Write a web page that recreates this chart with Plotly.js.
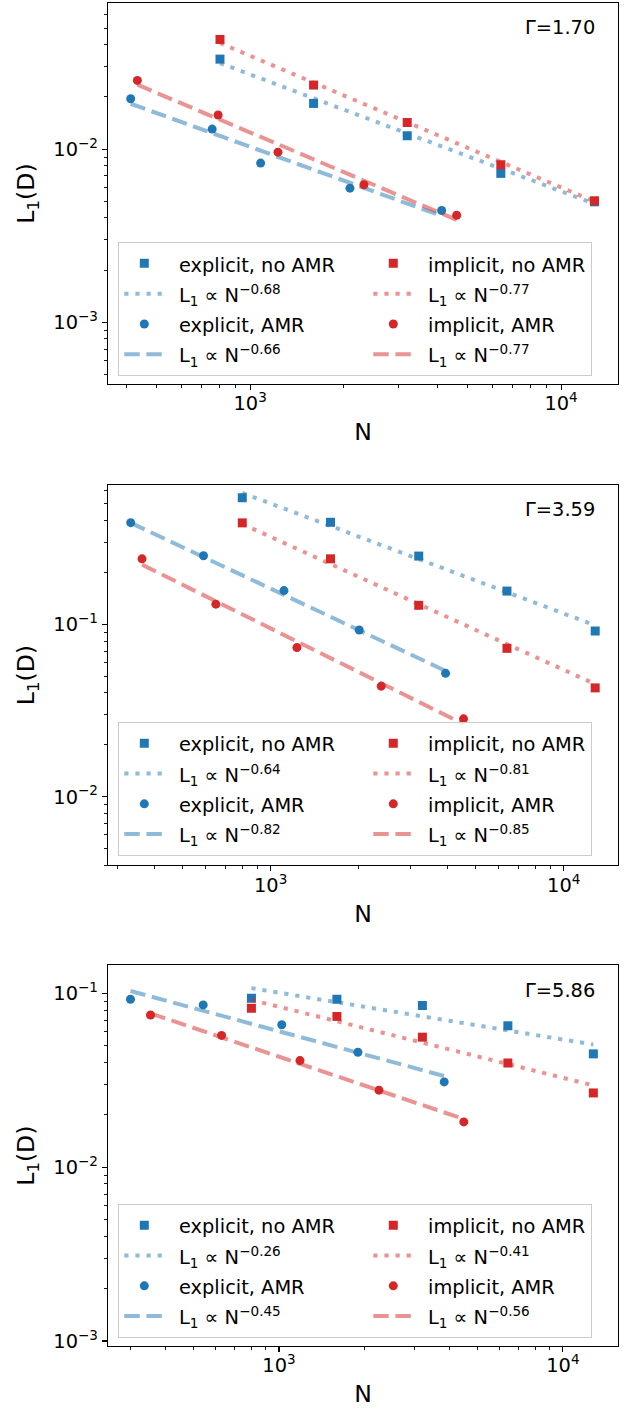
<!DOCTYPE html>
<html>
<head>
<meta charset="utf-8">
<script src="https://cdn.plot.ly/plotly-3.0.1.min.js"></script>
<style>
html, body { margin: 0; padding: 0; background: #ffffff; }
#chart { width: 633px; height: 1409px; }
</style>
</head>
<body>
<div id="chart"></div>
<script>
// ---------------- data ----------------
const gammaLabels = ['Γ=1.70', 'Γ=3.59', 'Γ=5.86'];
const seriesNames = ['explicit, no AMR', 'implicit, no AMR', 'explicit, AMR', 'implicit, AMR'];

// N for the runs without AMR (same in every panel)
const nNoAMR = [800, 1600, 3200, 6400, 12800];

// Panel 1 : Γ = 1.70
const p1ExpNoAMR = [0.0331, 0.01836, 0.01194, 0.00724, 0.00496];
const p1ImpNoAMR = [0.0430, 0.02344, 0.01425, 0.00812, 0.00503];
const p1ExpAMR_N = [413, 755, 1081, 2094, 4130];
const p1ExpAMR   = [0.01954, 0.01305, 0.0083, 0.00595, 0.00442];
const p1ImpAMR_N = [434, 789, 1229, 2323, 4615];
const p1ImpAMR   = [0.02494, 0.01574, 0.0096, 0.00622, 0.00415];
const p1FitExpNoAMR_N = [800, 12800];  const p1FitExpNoAMR = [0.0314, 0.00483];
const p1FitImpNoAMR_N = [800, 12800];  const p1FitImpNoAMR = [0.0410, 0.00498];
const p1FitExpAMR_N   = [413, 4130];   const p1FitExpAMR   = [0.01828, 0.00411];
const p1FitImpAMR_N   = [434, 4615];   const p1FitImpAMR   = [0.02355, 0.0039];
const p1Exponents = ['0.68', '0.77', '0.66', '0.77'];

// Panel 2 : Γ = 3.59
const p2ExpNoAMR = [0.542, 0.391, 0.249, 0.156, 0.0915];
const p2ImpNoAMR = [0.388, 0.240, 0.129, 0.0726, 0.0428];
const p2ExpAMR_N = [333, 590, 1110, 2005, 3951];
const p2ExpAMR   = [0.389, 0.250, 0.157, 0.0927, 0.052];
const p2ImpAMR_N = [364, 650, 1229, 2383, 4550];
const p2ImpAMR   = [0.240, 0.131, 0.0733, 0.0438, 0.0283];
const p2FitExpNoAMR_N = [800, 12800];  const p2FitExpNoAMR = [0.579, 0.0987];
const p2FitImpNoAMR_N = [800, 12800];  const p2FitImpNoAMR = [0.382, 0.0450];
const p2FitExpAMR_N   = [333, 3951];   const p2FitExpAMR   = [0.388, 0.0537];
const p2FitImpAMR_N   = [364, 4550];   const p2FitImpAMR   = [0.222, 0.0264];
const p2Exponents = ['0.64', '0.81', '0.82', '0.85'];

// Panel 3 : Γ = 5.86
const p3ExpNoAMR = [0.0935, 0.0923, 0.0849, 0.0650, 0.0448];
const p3ImpNoAMR = [0.0819, 0.0736, 0.0559, 0.0397, 0.0267];
const p3ExpAMR_N = [300, 541, 1023, 1897, 3819];
const p3ExpAMR   = [0.0923, 0.0857, 0.0659, 0.0458, 0.0309];
const p3ImpAMR_N = [353, 628, 1186, 2249, 4477];
const p3ImpAMR   = [0.0750, 0.0572, 0.0410, 0.0277, 0.0182];
const p3FitExpNoAMR_N = [800, 12800];  const p3FitExpNoAMR = [0.107, 0.0507];
const p3FitImpNoAMR_N = [800, 12800];  const p3FitImpNoAMR = [0.0916, 0.0295];
const p3FitExpAMR_N   = [300, 3819];   const p3FitExpAMR   = [0.103, 0.0334];
const p3FitImpAMR_N   = [353, 4477];   const p3FitImpAMR   = [0.0766, 0.0189];
const p3Exponents = ['0.26', '0.41', '0.45', '0.56'];

// axis tick labels
const xTickVals = [1e3, 1e4];
const xTickText = ['10<sup>3</sup>', '10<sup>4</sup>'];
const yTickVals = [1e-3, 1e-2, 1e-1];
const yTickText = ['10<sup>−3</sup>', '10<sup>−2</sup>', '10<sup>−1</sup>'];

// ---------------- styling ----------------
const FONT = 'DejaVu Sans';
const BLUE = '#1f77b4', RED = '#d62728';
const BLUE_FIT = 'rgba(31,119,180,0.5)', RED_FIT = 'rgba(214,39,40,0.5)';
const DOTTED = '4.2px,6.9px', DASHED = '15.4px,6.7px';
const TXT = s => '<span style="font-size:19.4px">\u2002' + s + '</span>';
const FITTXT = e => TXT('L<sub>1</sub> ∝ N<sup>−' + e + '</sup>');

const panels = [
  {exp: p1ExpNoAMR, imp: p1ImpNoAMR, eaN: p1ExpAMR_N, ea: p1ExpAMR, iaN: p1ImpAMR_N, ia: p1ImpAMR,
   f: [[p1FitExpNoAMR_N, p1FitExpNoAMR], [p1FitImpNoAMR_N, p1FitImpNoAMR], [p1FitExpAMR_N, p1FitExpAMR], [p1FitImpAMR_N, p1FitImpAMR]],
   ex: p1Exponents, xr: [2.543, 4.183], yr: [-3.357, -1.156], dom: [0.7163, 1.0], leg: 0.7720},
  {exp: p2ExpNoAMR, imp: p2ImpNoAMR, eaN: p2ExpAMR_N, ea: p2ExpAMR, iaN: p2ImpAMR_N, ia: p2ImpAMR,
   f: [[p2FitExpNoAMR_N, p2FitExpNoAMR], [p2FitImpNoAMR_N, p2FitImpNoAMR], [p2FitExpAMR_N, p2FitExpAMR], [p2FitImpAMR_N, p2FitImpAMR]],
   ex: p2Exponents, xr: [2.445, 4.185], yr: [-2.398, -0.190], dom: [0.3579, 0.6413], leg: 0.4147},
  {exp: p3ExpNoAMR, imp: p3ImpNoAMR, eaN: p3ExpAMR_N, ea: p3ExpAMR, iaN: p3ImpAMR_N, ia: p3ImpAMR,
   f: [[p3FitExpNoAMR_N, p3FitExpNoAMR], [p3FitImpNoAMR_N, p3FitImpNoAMR], [p3FitExpAMR_N, p3FitExpAMR], [p3FitImpAMR_N, p3FitImpAMR]],
   ex: p3Exponents, xr: [2.398, 4.194], yr: [-3.029, -0.839], dom: [0.0, 0.2835], leg: 0.0558}
];

function minorVals(lo, hi) {
  const v = [];
  for (let d = lo; d <= hi; d++) for (let k = 2; k <= 9; k++) v.push(k * Math.pow(10, d));
  return v;
}

const traces = [];
const layout = {
  width: 633, height: 1409,
  margin: {l: 108, r: 15, t: 3, b: 63, pad: 0},
  paper_bgcolor: '#ffffff', plot_bgcolor: '#ffffff',
  font: {family: FONT, size: 19.4, color: '#000000'},
  showlegend: true,
  annotations: []
};

panels.forEach((p, i) => {
  const s = i === 0 ? '' : String(i + 1);
  const xa = 'x' + s, ya = 'y' + s, lg = 'legend' + s;
  const common = {xaxis: xa, yaxis: ya, legend: lg, hoverinfo: 'skip'};
  const mk = (x, y, name, col, sym, rank, w) => Object.assign({
    type: 'scatter', mode: 'markers', x: x, y: y, name: TXT(name),
    marker: {color: col, symbol: sym, size: 9, line: {width: 0}}, legendrank: rank
  }, w ? {legendwidth: w} : {}, common);
  const ln = (xy, ex, col, dash, rank, w) => Object.assign({
    type: 'scatter', mode: 'lines', x: xy[0], y: xy[1], name: FITTXT(ex),
    line: {color: col, width: 4, dash: dash}, legendrank: rank
  }, w ? {legendwidth: w} : {}, common);

  // drawing order as in the original figure
  traces.push(mk(nNoAMR, p.exp, seriesNames[0], BLUE, 'square', 1));
  traces.push(ln(p.f[0], p.ex[0], BLUE_FIT, DOTTED, 3));
  traces.push(mk(p.eaN, p.ea, seriesNames[2], BLUE, 'circle', 5));
  traces.push(ln(p.f[2], p.ex[2], BLUE_FIT, DASHED, 7));
  traces.push(mk(nNoAMR, p.imp, seriesNames[1], RED, 'square', 2, 168));
  traces.push(ln(p.f[1], p.ex[1], RED_FIT, DOTTED, 4, 168));
  traces.push(mk(p.iaN, p.ia, seriesNames[3], RED, 'circle', 6, 168));
  traces.push(ln(p.f[3], p.ex[3], RED_FIT, DASHED, 8, 168));

  const axCommon = {
    type: 'log', showgrid: false, zeroline: false,
    showline: true, linecolor: '#000000', linewidth: 1.1, mirror: true,
    ticks: 'outside', ticklen: 5, tickwidth: 1.1, tickcolor: '#000000',
    tickfont: {family: FONT, size: 19.4, color: '#000000'},
    tickmode: 'array'
  };
  layout['xaxis' + s] = Object.assign({}, axCommon, {
    anchor: ya, domain: [0, 1], range: p.xr,
    tickvals: xTickVals, ticktext: xTickText, ticklabelstandoff: -3,
    minor: {tickmode: 'array', tickvals: minorVals(2, 4), ticks: 'outside', ticklen: 3, tickwidth: 0.9, tickcolor: '#000000', showgrid: false},
    title: {text: 'N', font: {family: FONT, size: 23.6, color: '#000000'}, standoff: 9}
  });
  layout['yaxis' + s] = Object.assign({}, axCommon, {
    anchor: xa, domain: p.dom, range: p.yr,
    tickvals: yTickVals, ticktext: yTickText,
    minor: {tickmode: 'array', tickvals: minorVals(-4, -1), ticks: 'outside', ticklen: 3, tickwidth: 0.9, tickcolor: '#000000', showgrid: false},
    title: {text: 'L<sub>1</sub>(D)', font: {family: FONT, size: 23.6, color: '#000000'}, standoff: 12}
  });
  layout[lg] = {
    orientation: 'h', x: 0.0202, xanchor: 'left', y: p.leg, yanchor: 'middle',
    xref: 'paper', yref: 'paper',
    entrywidth: 194, entrywidthmode: 'pixels', itemwidth: 40,
    bgcolor: 'rgba(255,255,255,0.8)', bordercolor: '#cccccc', borderwidth: 1,
    font: {family: FONT, size: 21, color: '#000000'},
    traceorder: 'normal', itemclick: false, itemdoubleclick: false
  };
  layout.annotations.push({
    text: gammaLabels[i], xref: xa + ' domain', yref: ya + ' domain',
    x: 0.958, y: 0.935, xanchor: 'right', yanchor: 'middle', showarrow: false,
    font: {family: FONT, size: 19.4, color: '#000000'}
  });
});

Plotly.newPlot('chart', traces, layout, {displayModeBar: false, staticPlot: true});
</script>
</body>
</html>
